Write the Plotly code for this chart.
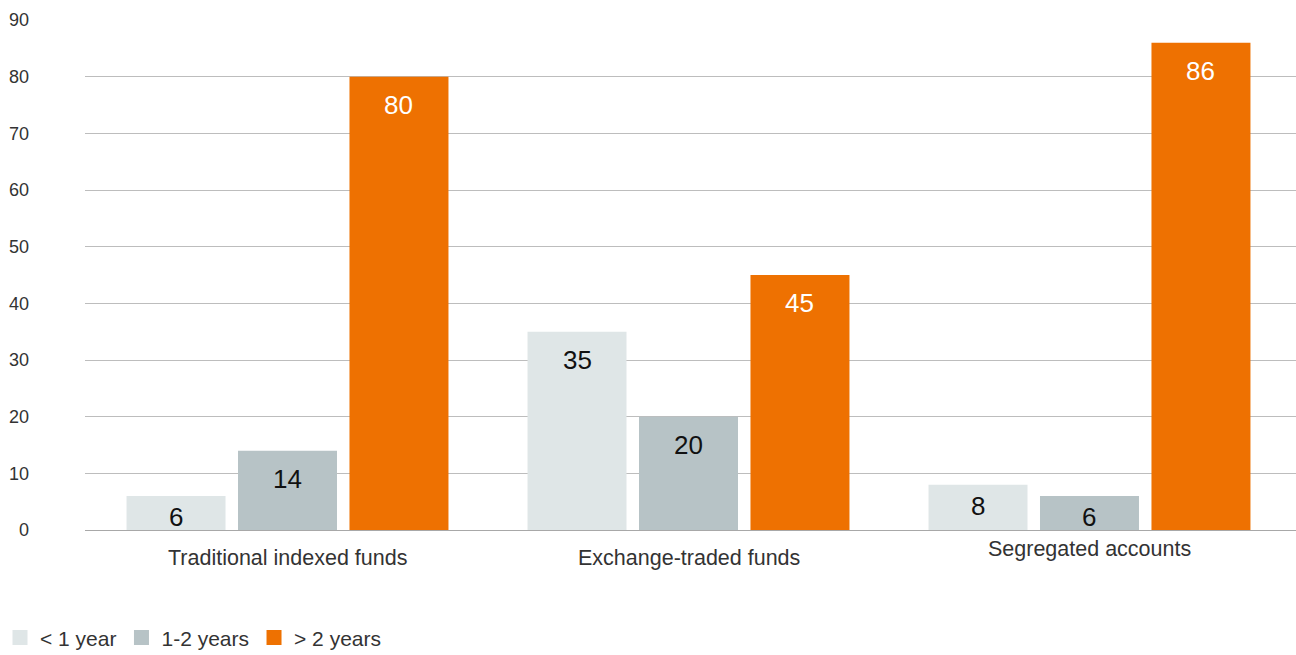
import plotly.graph_objects as go

# Holding period by vehicle type (% of respondents)
categories = ["Traditional indexed funds", "Exchange-traded funds", "Segregated accounts"]
series_names = ["< 1 year", "1-2 years", "> 2 years"]
under_1_year = [6, 35, 8]
one_to_two_years = [14, 20, 6]
over_2_years = [80, 45, 86]
y_ticks = [0, 10, 20, 30, 40, 50, 60, 70, 80, 90]

series_values = [under_1_year, one_to_two_years, over_2_years]
colors = ["#DFE6E7", "#B7C3C6", "#EE7101"]
label_colors = ["#111111", "#111111", "#FFFFFF"]

FONT = "Liberation Sans, Arial, sans-serif"
BARGAP = 0.166
N = len(series_names)
slot = (1 - BARGAP) / N

fig = go.Figure()
for i, (name, vals) in enumerate(zip(series_names, series_values)):
    fig.add_trace(go.Bar(
        x=list(range(len(categories))), y=vals, name=name,
        marker=dict(color=colors[i], line=dict(width=0)),
        showlegend=False, hoverinfo="skip",
    ))
    # legend swatch
    fig.add_trace(go.Scatter(
        x=[None], y=[None], mode="markers", name=name,
        marker=dict(symbol="square", size=15, color=colors[i]),
    ))

annotations = []
# value labels just inside the top of each bar
for i, vals in enumerate(series_values):
    offset = (i - (N - 1) / 2) * slot
    for c, v in enumerate(vals):
        shift = -28 if v >= 10 else -21
        annotations.append(dict(
            x=c + offset, y=v, xref="x", yref="y", text=str(v),
            showarrow=False, yshift=shift, yanchor="middle",
            font=dict(family=FONT, size=26, color=label_colors[i]),
        ))

# category labels below the baseline
cat_shift = [-28, -28, -19]
for c, name in enumerate(categories):
    annotations.append(dict(
        x=c, y=0, xref="x", yref="y", text=name, showarrow=False,
        yshift=cat_shift[c], yanchor="middle",
        font=dict(family=FONT, size=21.5, color="#333333"),
    ))

fig.update_layout(
    width=1296, height=655,
    margin=dict(l=85, r=0, t=20, b=125, autoexpand=False),
    paper_bgcolor="white", plot_bgcolor="white",
    barmode="group", bargap=BARGAP, bargroupgap=0.112,
    font=dict(family=FONT, color="#333333"),
    xaxis=dict(
        range=[-0.505, 2.515], showticklabels=False, showgrid=False,
        zeroline=False, showline=False, fixedrange=True, automargin=False,
    ),
    yaxis=dict(
        range=[0, 90], tickvals=y_ticks, ticktext=[str(t) for t in y_ticks],
        showgrid=True, gridcolor="#BDBDBD", gridwidth=1,
        zeroline=True, zerolinecolor="#A8A8A8", zerolinewidth=1,
        showline=False, ticks="", ticklabelstandoff=55, automargin=False,
        tickfont=dict(family=FONT, size=18, color="#333333"),
    ),
    legend=dict(
        orientation="h", xref="container", yref="container",
        x=-0.0026, xanchor="left", y=0.026, yanchor="middle",
        font=dict(family=FONT, size=21, color="#333333"),
        itemclick=False, itemdoubleclick=False,
    ),
    annotations=annotations,
)

fig.write_html("out.html")
